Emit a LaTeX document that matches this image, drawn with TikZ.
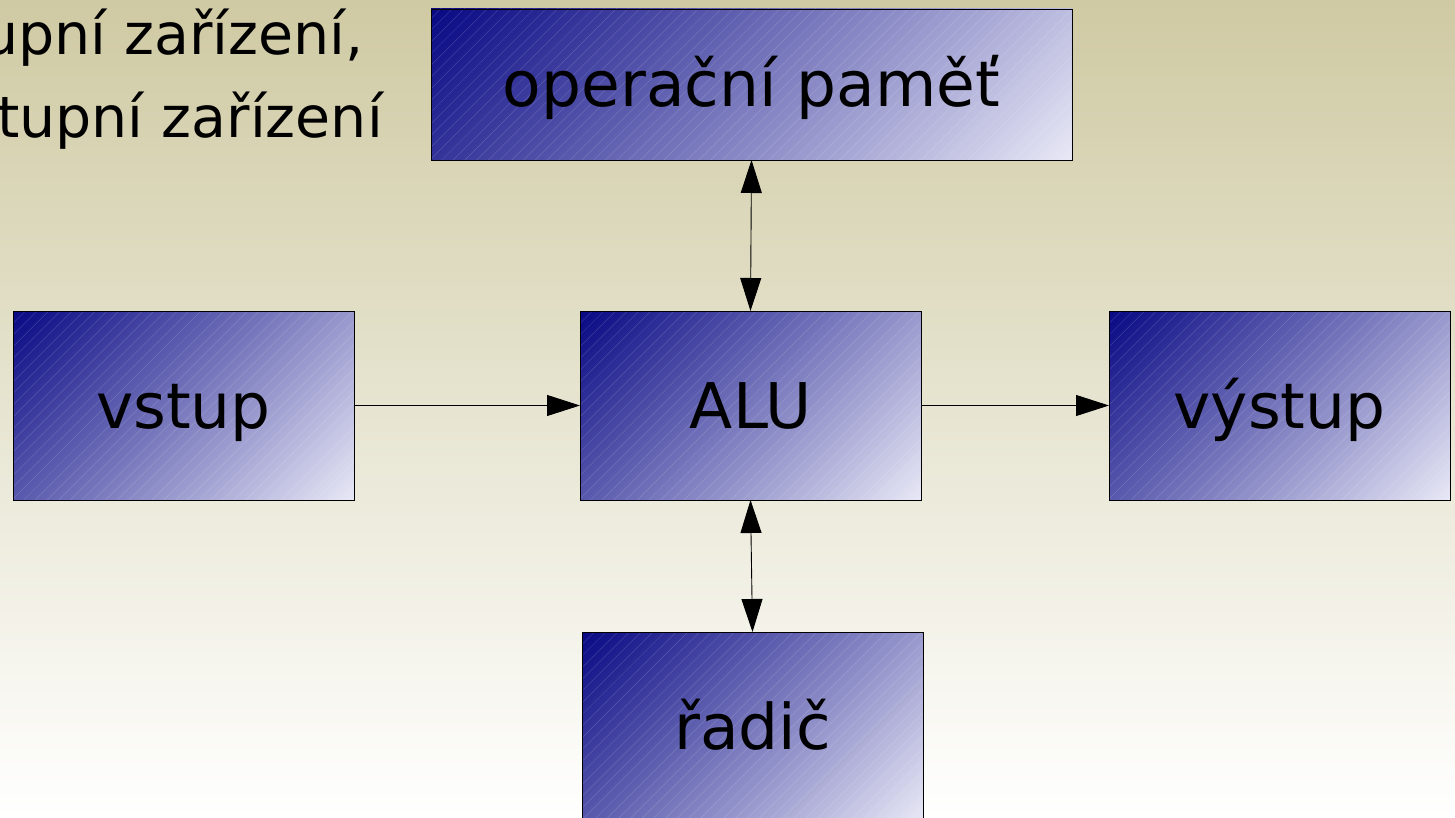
\documentclass[tikz,border=0pt]{standalone}
\usepackage{fontspec}
\setmainfont{DejaVu Sans}
\usetikzlibrary{arrows.meta}

\definecolor{bgtop}{RGB}{207,202,163}
\definecolor{boxdark}{RGB}{0,0,128}
\definecolor{boxlight}{RGB}{240,240,250}

% diagonal fill of the units, light at the bottom, dark at the top
\pgfdeclareverticalshading{unitshade}{100bp}{%
  color(0bp)=(boxlight); color(12bp)=(boxlight);
  color(88bp)=(boxdark); color(100bp)=(boxdark)}

\tikzset{
  hatch/.style={draw=white, line width=0.5pt, opacity=0.16},
  unitbox/.style={
    draw=black, line width=0.9pt,
    shading=unitshade, shading angle=45,
    minimum width=341pt, minimum height=189pt,
    inner sep=0pt, outer sep=0pt,
    text height=45pt, text depth=0pt,
    font=\fontsize{63}{75}\selectfont,
    path picture={
      \foreach \k in {-200,-188.3,...,660}
        \draw[hatch] ([xshift=\k pt]path picture bounding box.south west)
          -- ++(200pt,200pt);
    }
  },
  bigbox/.style={unitbox, minimum width=641pt, minimum height=151pt},
  bulletline/.style={anchor=base east, inner sep=0pt,
    font=\fontsize{57}{68}\selectfont},
  link/.style={line width=0.9pt, draw=black},
  tip/.style={-{Triangle[length=33pt,width=21pt]}},
  dtip/.style={{Triangle[length=33pt,width=21pt]}-{Triangle[length=33pt,width=21pt]}}
}

\begin{document}
\begin{tikzpicture}[x=1pt,y=-1pt]
  % page and background
  \clip (0,0) rectangle (1455,818);
  \shade[top color=bgtop, bottom color=white] (0,0) rectangle (1455,818);

  % list text
  \node[bulletline] (l1) at (364,55) {Vstupní zařízení,};
  \node[bulletline] (l2) at (383,138) {výstupní zařízení};

  % units
  \node[bigbox]  (mem)  at (751.5,84.5)  {operační paměť};
  \node[unitbox] (in)   at (183.5,405.5) {vstup};
  \node[unitbox] (alu)  at (750.5,405.5) {ALU};
  \node[unitbox] (out)  at (1279.5,405.5) {výstup};
  \node[unitbox] (ctrl) at (752.5,726.5) {řadič};

  % connections
  \draw[link,dtip] (mem.south) -- (alu.north);
  \draw[link,dtip] (alu.south) -- (ctrl.north);
  \draw[link,tip]  (in.east) -- (alu.west);
  \draw[link,tip]  (alu.east) -- (out.west);
\end{tikzpicture}
\end{document}
